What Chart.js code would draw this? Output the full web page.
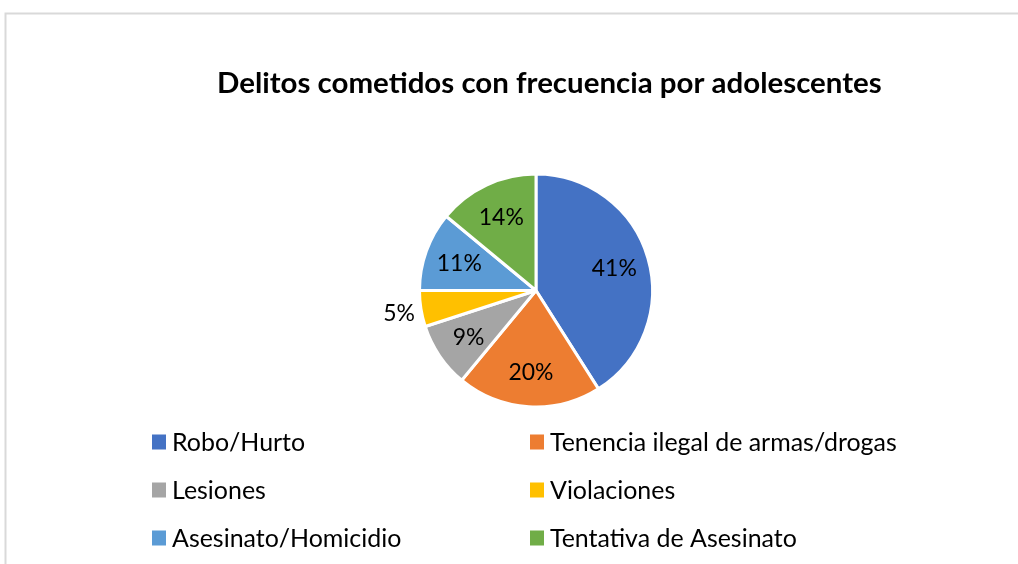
<!DOCTYPE html>
<html>
<head>
<meta charset="utf-8">
<script src="https://cdn.jsdelivr.net/npm/chart.js@4.4.0/dist/chart.umd.min.js"></script>
<style>
html,body{margin:0;padding:0;background:#fff;}
#wrap{position:relative;width:1018px;height:564px;}
</style>
</head>
<body>
<div id="wrap"><canvas id="c" width="1018" height="564"></canvas></div>
<script>
const titleText = "Delitos cometidos con frecuencia por adolescentes";
const categories = ["Robo/Hurto", "Tenencia ilegal de armas/drogas", "Lesiones", "Violaciones", "Asesinato/Homicidio", "Tentativa de Asesinato"];
const values = [41, 20, 9, 5, 11, 14];
const colors = ["#4472C4", "#ED7D31", "#A5A5A5", "#FFC000", "#5B9BD5", "#70AD47"];

const FAMILY = "Lato, 'Open Sans', sans-serif";

function fitSize(ctx, text, weight, target) {
  ctx.font = weight + " 100px " + FAMILY;
  const w = ctx.measureText(text).width;
  return 100 * target / w;
}

const decorPlugin = {
  id: 'decor',
  beforeDraw(chart) {
    const ctx = chart.ctx;
    ctx.save();
    ctx.strokeStyle = '#d9d9d9';
    ctx.lineWidth = 2;
    ctx.strokeRect(5.5, 13.5, 1100, 700);
    ctx.restore();
  },
  afterDraw(chart) {
    const ctx = chart.ctx;
    ctx.save();
    // title
    const ts = fitSize(ctx, titleText, 'bold', 665);
    ctx.font = 'bold ' + ts + 'px ' + FAMILY;
    ctx.fillStyle = '#000';
    ctx.textAlign = 'left';
    ctx.textBaseline = 'alphabetic';
    ctx.fillText(titleText, 217, 93);

    // data labels
    const meta = chart.getDatasetMeta(0);
    const total = values.reduce((a, b) => a + b, 0);
    const ls = fitSize(ctx, "41%", 'normal', 45);
    ctx.font = ls + 'px ' + FAMILY;
    ctx.textAlign = 'center';
    ctx.textBaseline = 'middle';
    meta.data.forEach((arc, i) => {
      const p = arc.getProps(['x', 'y', 'startAngle', 'endAngle', 'outerRadius'], true);
      const mid = (p.startAngle + p.endAngle) / 2;
      const pct = Math.round(values[i] / total * 100);
      const f = pct < 6 ? 1.19 : 0.7;
      const x = p.x + Math.cos(mid) * p.outerRadius * f;
      const y = p.y + Math.sin(mid) * p.outerRadius * f;
      ctx.fillStyle = '#000';
      ctx.fillText(pct + '%', x, y + 1);
    });

    // legend (2 columns x 3 rows)
    const gs = fitSize(ctx, categories[1], 'normal', 347);
    ctx.font = gs + 'px ' + FAMILY;
    ctx.textAlign = 'left';
    ctx.textBaseline = 'middle';
    const colX = [152, 530];
    const rowY = [442, 490, 538];
    categories.forEach((c, i) => {
      const cx = colX[i % 2];
      const cy = rowY[Math.floor(i / 2)];
      ctx.fillStyle = colors[i];
      ctx.fillRect(cx, cy - 7.5, 14, 15);
      ctx.fillStyle = '#000';
      ctx.fillText(c, cx + 20, cy + 1);
    });
    ctx.restore();
  }
};

new Chart(document.getElementById('c'), {
  type: 'pie',
  data: {
    labels: categories,
    datasets: [{
      data: values,
      backgroundColor: colors,
      borderColor: '#ffffff',
      borderWidth: 3
    }]
  },
  options: {
    responsive: false,
    animation: false,
    layout: { padding: { left: 418, right: 364, top: 172, bottom: 155 } },
    plugins: {
      legend: { display: false },
      title: { display: false },
      tooltip: { enabled: false }
    }
  },
  plugins: [decorPlugin]
});
</script>
</body>
</html>
